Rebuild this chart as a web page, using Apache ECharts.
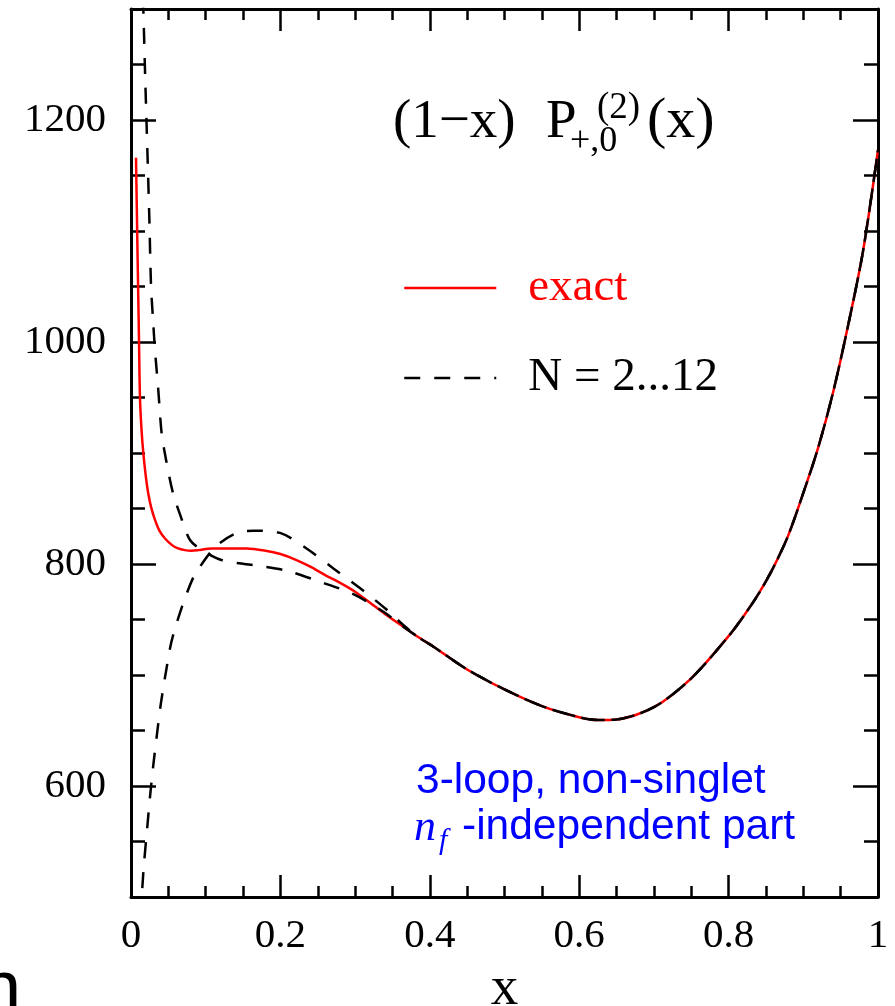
<!DOCTYPE html>
<html><head><meta charset="utf-8">
<script src="https://cdn.jsdelivr.net/npm/echarts@6/dist/echarts.min.js"></script>
<style>html,body{margin:0;padding:0;background:#fff}#c{width:895px;height:1006px}</style>
</head><body><div id="c"></div>
<script>
// exact curve
const exactX = [0.0067,0.0085,0.0098,0.0107,0.012,0.014,0.0165,0.02,0.023,0.027,0.032,0.038,0.0455,0.055,0.063,0.072,0.081,0.09,0.108,0.13,0.155,0.18,0.2,0.22,0.24,0.26,0.28,0.3,0.32,0.34,0.3645,0.385,0.405,0.45,0.5,0.55,0.6,0.625,0.65,0.7,0.75,0.8,0.82,0.84,0.86,0.88,0.9,0.92,0.94,0.96,0.98,1.0];
const exactY = [1166,1090,1038,1002,950,922,900,878,864,851,840,830,823,817,814,812.5,812,812.5,814,814,814,812,809,804,797.6,790,783,775,765,755,743.5,734,725.5,705,687,672,662,659.5,660,671,697,735,753,773,797,826,864,905,955,1015,1082,1173];
// N = 2...12 approximation, branch coming from above
const upperX = [0.0155,0.0165,0.0191,0.0219,0.0246,0.0268,0.0295,0.0321,0.0365,0.041,0.0469,0.0562,0.067,0.079,0.0946,0.121,0.164,0.208,0.253,0.297,0.338,0.3645,0.385,0.405,0.45,0.5,0.55,0.6,0.625,0.65,0.7,0.75,0.8,0.82,0.84,0.86,0.88,0.9,0.92,0.94,0.96,0.98,1.0];
const upperY = [1310,1299,1236,1173,1110,1051,1020,993,957,918,894,864,842,821.6,812.6,803.6,799,794,784,773,757,743.5,734,725.5,705,687,672,662,659.5,660,671,697,735,753,773,797,826,864,905,955,1015,1082,1173];
// N = 2...12 approximation, branch coming from below
const lowerX = [0.0151,0.0174,0.0218,0.0254,0.0299,0.0352,0.0397,0.0473,0.0545,0.068,0.0834,0.0924,0.1058,0.119,0.1415,0.164,0.1995,0.235,0.271,0.309,0.342,0.3645,0.385,0.405,0.45,0.5,0.55,0.6,0.625,0.65,0.7,0.75,0.8,0.82,0.84,0.86,0.88,0.9,0.92,0.94,0.96,0.98,1.0];
const lowerY = [508,530,563,590,619,649,673,705,731,761,788,797.6,810,819,828,830,828,814,796,777,759,745,734,725.5,705,687,672,662,659.5,660,671,697,735,753,773,797,826,864,905,955,1015,1082,1173];

const xTickLabels = [0, 0.2, 0.4, 0.6, 0.8, 1];
const yTickLabels = [600, 800, 1000, 1200];
const yMinorTicks = [550, 650, 700, 750, 850, 900, 950, 1050, 1100, 1150, 1250];

const zip = (xs, ys) => xs.map((x, i) => [x, ys[i]]);
const serif = "'Liberation Serif', 'DejaVu Serif', serif";
const sans = "'Liberation Sans', Arial, sans-serif";

const chart = echarts.init(document.getElementById('c'), null, {renderer: 'canvas'});

const tickStyle = {color: '#000', width: 2.5};
function xAxisCfg(pos, showLabel) {
  return {
    type: 'value', position: pos, min: 0, max: 1, interval: 0.2,
    axisLine: {show: true, onZero: false, lineStyle: {color: '#000', width: 3}},
    axisTick: {show: true, inside: true, length: 22, lineStyle: tickStyle},
    minorTick: {show: true, splitNumber: 4, length: 11, lineStyle: tickStyle},
    splitLine: {show: false}, minorSplitLine: {show: false},
    axisLabel: {show: showLabel, color: '#000', fontFamily: serif, fontSize: 41, margin: 19,
      customValues: xTickLabels, formatter: v => String(v)},
    name: showLabel ? 'x' : '', nameLocation: 'middle', nameGap: 63,
    nameTextStyle: {color: '#000', fontFamily: serif, fontSize: 55}
  };
}
function yAxisCfg(pos, major, showLabel) {
  return {
    type: 'value', position: pos, min: 500, max: 1300, interval: 50,
    axisLine: {show: major, onZero: false, lineStyle: {color: '#000', width: 3}},
    axisTick: {show: true, inside: true, length: major ? 25 : 14, lineStyle: tickStyle,
      customValues: major ? yTickLabels : yMinorTicks},
    splitLine: {show: false},
    axisLabel: {show: showLabel, color: '#000', fontFamily: serif, fontSize: 41, margin: 25,
      customValues: yTickLabels, formatter: v => String(v)}
  };
}

const option = {
  backgroundColor: '#fff',
  animation: false,
  grid: {left: 131, right: 17, top: 9, bottom: 109, containLabel: false, outerBoundsMode: 'none'},
  xAxis: [xAxisCfg('bottom', true), xAxisCfg('top', false)],
  yAxis: [yAxisCfg('left', true, true), yAxisCfg('left', false, false),
          yAxisCfg('right', true, false), yAxisCfg('right', false, false)],
  legend: {
    show: true, orient: 'vertical', left: 398, top: 258, selectedMode: false,
    itemWidth: 92, itemHeight: 1, itemGap: 40,
    itemStyle: {color: 'rgba(0,0,0,0)', borderWidth: 0, opacity: 0},
    lineStyle: {width: 2.5},
    data: [
      {name: 'exact', textStyle: {color: '#ff0000'}},
      {name: 'N = 2...12', textStyle: {color: '#000'}}
    ],
    textStyle: {fontFamily: serif, fontSize: 47, lineHeight: 50, padding: [0, 0, 0, 27]}
  },
  series: [
    {name: 'exact', type: 'line', data: zip(exactX, exactY), showSymbol: false, symbol: 'none',
      smooth: 0.3, clip: true, lineStyle: {color: '#ff0000', width: 2.5}, itemStyle: {color: '#ff0000'}, z: 2},
    {name: 'N = 2...12', type: 'line', data: zip(upperX, upperY), showSymbol: false, symbol: 'none',
      smooth: 0.3, clip: true, lineStyle: {color: '#000', width: 2.5, type: [16, 14]}, itemStyle: {color: '#000'}, z: 3},
    {name: 'N = 2...12', type: 'line', data: zip(lowerX, lowerY), showSymbol: false, symbol: 'none',
      smooth: 0.3, clip: true, lineStyle: {color: '#000', width: 2.5, type: [16, 14]}, itemStyle: {color: '#000'}, z: 3}
  ],
  graphic: [
    {type: 'text', left: 393, top: 95, style: {text: '(1\u2212x)', font: `55px ${serif}`, fill: '#000'}},
    {type: 'text', left: 546, top: 95, style: {text: 'P', font: `55px ${serif}`, fill: '#000'}},
    {type: 'text', left: 597, top: 90, style: {text: '(2)', font: `37px ${serif}`, fill: '#000'}},
    {type: 'text', left: 570, top: 124, style: {text: '+,0', font: `36px ${serif}`, fill: '#000'}},
    {type: 'text', left: 647, top: 93, style: {text: '(x)', font: `58px ${serif}`, fill: '#000'}},
    {type: 'text', left: 416, top: 760, style: {text: '3-loop, non-singlet', font: `42.5px ${sans}`, fill: '#0000ff'}},
    {type: 'text', left: 414, top: 806, style: {text: 'n', font: `italic 44px ${serif}`, fill: '#0000ff'}},
    {type: 'text', left: 439, top: 826, style: {text: 'f', font: `italic 30px ${serif}`, fill: '#0000ff'}},
    {type: 'text', left: 462, top: 806, style: {text: '-independent part', font: `42.5px ${sans}`, fill: '#0000ff'}},
    {type: 'text', left: -20, top: 955, style: {text: 'n', font: `74px ${sans}`, fill: '#000'}}
  ]
};
chart.setOption(option);
</script>
</body></html>
